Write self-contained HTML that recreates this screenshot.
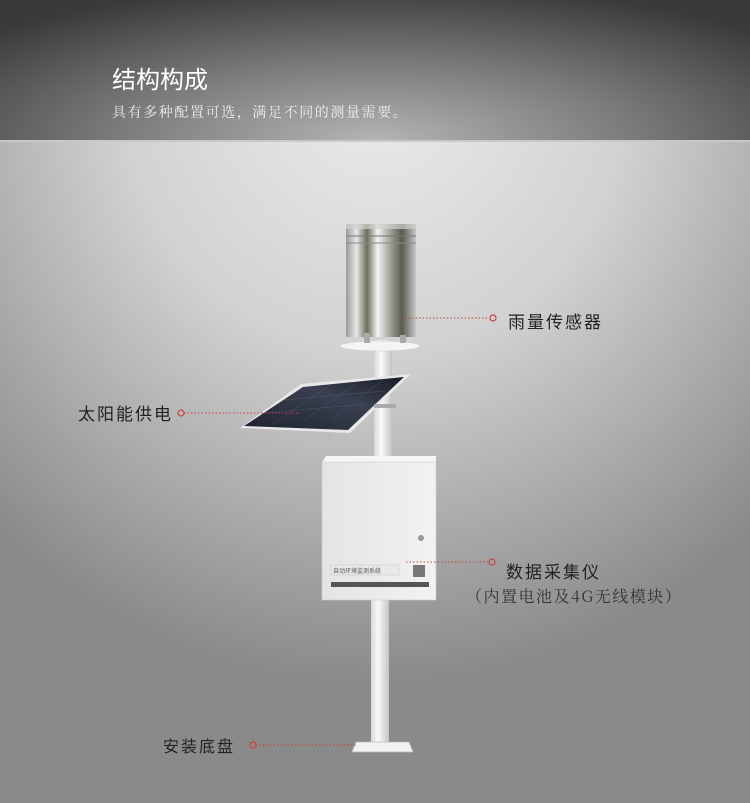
<!DOCTYPE html>
<html><head><meta charset="utf-8"><style>
html,body{margin:0;padding:0;width:750px;height:803px;overflow:hidden}
body{font-family:"Liberation Sans","Noto Sans CJK SC",sans-serif}
</style></head><body>
<svg width="750" height="803" viewBox="0 0 750 803" xmlns="http://www.w3.org/2000/svg">
<defs>
<radialGradient id="hdr" cx="0.5" cy="1" r="0.7" gradientTransform="translate(0.5 1) scale(1 1.6) translate(-0.5 -1)">
<stop offset="0" stop-color="#b4b4b4"/><stop offset="0.5" stop-color="#7a7a7a"/><stop offset="1" stop-color="#3a3a3a"/></radialGradient>
<radialGradient id="bg" cx="0.5" cy="0.1" r="0.75">
<stop offset="0" stop-color="#ececec"/><stop offset="0.45" stop-color="#d2d2d2"/><stop offset="1" stop-color="#8a8a8a"/></radialGradient>
<linearGradient id="steel" x1="0" x2="1">
<stop offset="0" stop-color="#9a9a9a"/><stop offset="0.15" stop-color="#e8e8e8"/><stop offset="0.3" stop-color="#6d6d58"/><stop offset="0.45" stop-color="#f4f4f4"/><stop offset="0.6" stop-color="#b0b0a8"/><stop offset="0.8" stop-color="#5a5a50"/><stop offset="1" stop-color="#c8c8c8"/></linearGradient>
<linearGradient id="pole" x1="0" x2="1"><stop offset="0" stop-color="#d8d8d8"/><stop offset="0.4" stop-color="#fafafa"/><stop offset="1" stop-color="#c4c4c4"/></linearGradient>
<linearGradient id="box" x1="0" x2="1"><stop offset="0" stop-color="#e4e4e4"/><stop offset="1" stop-color="#f2f2f2"/></linearGradient>
<linearGradient id="pv" x1="0" y1="1" x2="1" y2="0"><stop offset="0" stop-color="#1f2330"/><stop offset="0.6" stop-color="#3a4050"/><stop offset="1" stop-color="#1a1d28"/></linearGradient>
</defs>
<rect width="750" height="803" fill="url(#bg)"/>
<rect width="750" height="141" fill="url(#hdr)"/>
<rect y="140" width="750" height="2" fill="#c8c8c8"/>
<text x="112" y="88" font-size="24" fill="#fff" font-family="'Noto Sans CJK SC',sans-serif">结构构成</text>
<text x="112" y="117" font-size="14" fill="#eee" letter-spacing="1.6" font-family="'Noto Serif CJK SC',serif">具有多种配置可选，满足不同的测量需要。</text>

<!-- pole -->
<rect x="374" y="340" width="18" height="122" fill="url(#pole)"/>
<rect x="371" y="598" width="18" height="145" fill="url(#pole)"/>
<polygon points="356,742 409,742 413,752 352,752" fill="#f2f2f2" stroke="#bbb" stroke-width="0.8"/>
<!-- plate -->
<ellipse cx="380" cy="346" rx="40" ry="5" fill="#f4f4f4" stroke="#ccc" stroke-width="0.6"/>
<!-- rain gauge -->
<rect x="346" y="224" width="70" height="113" fill="url(#steel)"/>
<rect x="346" y="224" width="70" height="5" fill="#d0d0d0" opacity="0.7"/>
<line x1="346" y1="236" x2="416" y2="236" stroke="#777" stroke-width="1"/>
<line x1="346" y1="243" x2="416" y2="243" stroke="#888" stroke-width="1"/>
<rect x="364" y="333" width="6" height="10" fill="#aaa"/><rect x="400" y="335" width="6" height="8" fill="#aaa"/>
<!-- solar -->
<polygon points="285,430 340,425 330,442 305,447" fill="#bdbdbd"/>
<polygon points="240,428 301,384 411,374 350,433" fill="#e8e8e8"/>
<polygon points="244,426 303,387 404,377 348,430" fill="url(#pv)"/>
<g stroke="#5a6070" stroke-width="0.5" opacity="0.7">
<line x1="264" y1="413" x2="366" y2="404"/><line x1="284" y1="400" x2="385" y2="391"/>
<line x1="273" y1="424" x2="330" y2="385"/><line x1="303" y1="421" x2="357" y2="383"/><line x1="333" y1="418" x2="383" y2="380"/>
</g>
<rect x="374" y="404" width="22" height="4" fill="#aaa"/>
<!-- box -->
<polygon points="322,462 326,456 436,456 436,462" fill="#f6f6f6"/>
<rect x="322" y="462" width="114" height="138" fill="url(#box)" stroke="#ccc" stroke-width="0.6"/>
<circle cx="421" cy="538" r="3" fill="#999"/>
<rect x="331" y="565" width="68" height="10" fill="#e9e9e9" stroke="#bbb" stroke-width="0.4"/>
<text x="333" y="573" font-size="6" fill="#555">自动环境监测系统</text>
<rect x="413" y="565" width="12" height="12" fill="#777"/>
<rect x="331" y="582" width="98" height="5" fill="#555"/>

<!-- labels & leader lines -->
<g stroke="#c94040" stroke-width="1" stroke-dasharray="1.5,2" fill="none">
<line x1="405" y1="318" x2="489" y2="318"/>
<line x1="184" y1="413" x2="300" y2="413"/>
<line x1="406" y1="562" x2="488" y2="562"/>
<line x1="256" y1="745" x2="356" y2="745"/>
</g>
<g fill="none" stroke="#c94040" stroke-width="1.2">
<circle cx="493" cy="318" r="3"/><circle cx="181" cy="413" r="3"/><circle cx="492" cy="562" r="3"/><circle cx="253" cy="745" r="3"/>
</g>
<g fill="#222" font-size="17" letter-spacing="2" font-family="'Noto Sans CJK SC',sans-serif">
<text x="508" y="328">雨量传感器</text>
<text x="78" y="420">太阳能供电</text>
<text x="506" y="578">数据采集仪</text>
<text x="163" y="752" font-size="16">安装底盘</text>
</g>
<text x="466" y="602" font-size="16" fill="#333" letter-spacing="1.5" font-family="'Noto Serif CJK SC',serif">（内置电池及4G无线模块）</text>
</svg>
</body></html>
